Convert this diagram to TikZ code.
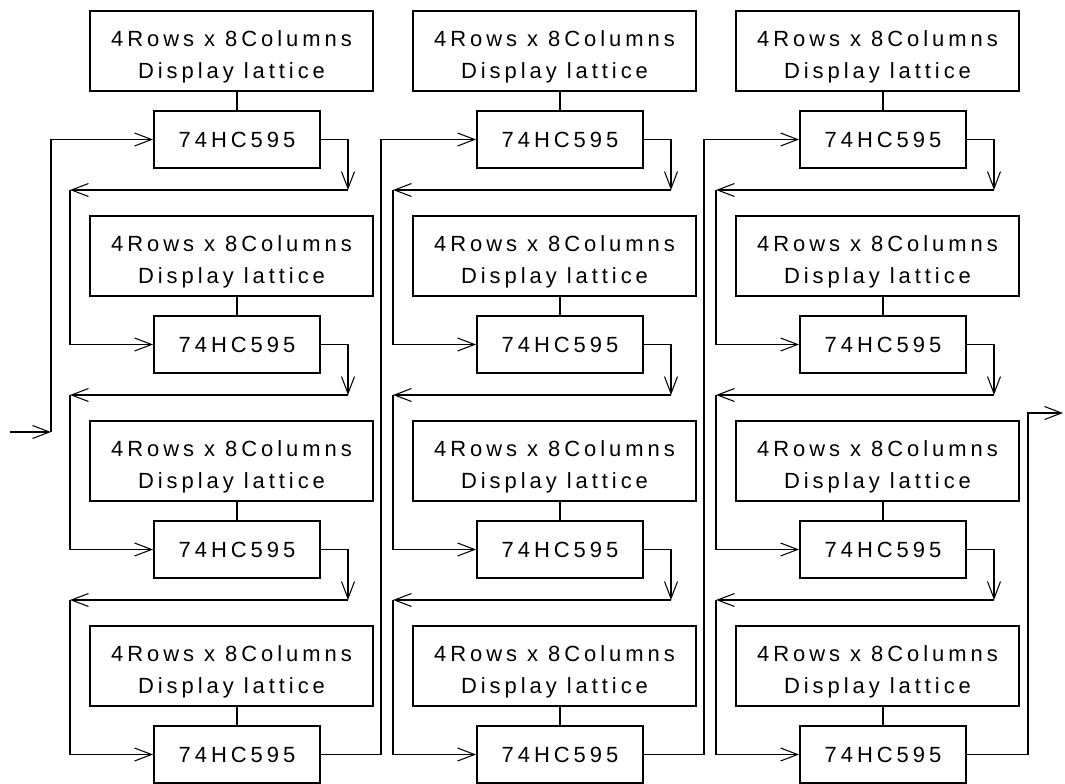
\documentclass[tikz,border=0pt]{standalone}
\usepackage{fontspec}
\setmainfont{Liberation Sans}[LetterSpace=18]
\usetikzlibrary{arrows.meta}

\begin{document}
\begin{tikzpicture}[
		lattice/.style={draw, line width=1.1pt, minimum width=5.66cm, minimum height=1.6cm, inner sep=0pt, align=center, font=\fontsize{12.5}{17.9}\selectfont},
		chipbox/.style={draw, line width=1.1pt, minimum width=3.32cm, minimum height=1.14cm, inner sep=0pt, font=\fontsize{12.5}{14}\selectfont},
		wire/.style={line width=1.1pt},
		>={Straight Barb[length=3.4mm,width=2.6mm,line width=0.6pt]}]
		\newcommand{\colStep}{6.46}
		\newcommand{\rowStep}{4.1}
		\newcommand{\latText}{\rule{0pt}{15.5pt}4Rows x 8Columns\\Display lattice}
		
		\useasboundingbox (0,0) rectangle (21.3,15.66);		% page
		
		% left column
		\node[lattice] (latA1) at (4.63,14.64) {\latText};
		\node[lattice] (latA2) at (4.63,14.64-1*\rowStep) {\latText};
		\node[lattice] (latA3) at (4.63,14.64-2*\rowStep) {\latText};
		\node[lattice] (latA4) at (4.63,14.64-3*\rowStep) {\latText};
		\node[chipbox] (chipA1) at (4.74,12.87) {74HC595};
		\node[chipbox] (chipA2) at (4.74,12.87-1*\rowStep) {74HC595};
		\node[chipbox] (chipA3) at (4.74,12.87-2*\rowStep) {74HC595};
		\node[chipbox] (chipA4) at (4.74,12.87-3*\rowStep) {74HC595};
		
		% middle column
		\node[lattice] (latB1) at (4.63+\colStep,14.64) {\latText};
		\node[lattice] (latB2) at (4.63+\colStep,14.64-1*\rowStep) {\latText};
		\node[lattice] (latB3) at (4.63+\colStep,14.64-2*\rowStep) {\latText};
		\node[lattice] (latB4) at (4.63+\colStep,14.64-3*\rowStep) {\latText};
		\node[chipbox] (chipB1) at (4.74+\colStep,12.87) {74HC595};
		\node[chipbox] (chipB2) at (4.74+\colStep,12.87-1*\rowStep) {74HC595};
		\node[chipbox] (chipB3) at (4.74+\colStep,12.87-2*\rowStep) {74HC595};
		\node[chipbox] (chipB4) at (4.74+\colStep,12.87-3*\rowStep) {74HC595};
		
		% right column
		\node[lattice] (latC1) at (4.63+2*\colStep,14.64) {\latText};
		\node[lattice] (latC2) at (4.63+2*\colStep,14.64-1*\rowStep) {\latText};
		\node[lattice] (latC3) at (4.63+2*\colStep,14.64-2*\rowStep) {\latText};
		\node[lattice] (latC4) at (4.63+2*\colStep,14.64-3*\rowStep) {\latText};
		\node[chipbox] (chipC1) at (4.74+2*\colStep,12.87) {74HC595};
		\node[chipbox] (chipC2) at (4.74+2*\colStep,12.87-1*\rowStep) {74HC595};
		\node[chipbox] (chipC3) at (4.74+2*\colStep,12.87-2*\rowStep) {74HC595};
		\node[chipbox] (chipC4) at (4.74+2*\colStep,12.87-3*\rowStep) {74HC595};
		
		% lattice to chip
		\draw[wire] (chipA1.north |- latA1.south) -- (chipA1.north);
		\draw[wire] (chipA2.north |- latA2.south) -- (chipA2.north);
		\draw[wire] (chipA3.north |- latA3.south) -- (chipA3.north);
		\draw[wire] (chipA4.north |- latA4.south) -- (chipA4.north);
		\draw[wire] (chipB1.north |- latB1.south) -- (chipB1.north);
		\draw[wire] (chipB2.north |- latB2.south) -- (chipB2.north);
		\draw[wire] (chipB3.north |- latB3.south) -- (chipB3.north);
		\draw[wire] (chipB4.north |- latB4.south) -- (chipB4.north);
		\draw[wire] (chipC1.north |- latC1.south) -- (chipC1.north);
		\draw[wire] (chipC2.north |- latC2.south) -- (chipC2.north);
		\draw[wire] (chipC3.north |- latC3.south) -- (chipC3.north);
		\draw[wire] (chipC4.north |- latC4.south) -- (chipC4.north);
		
		% turning points
		\coordinate (downA1) at (6.96,11.86);	\coordinate (backA1) at (1.40,11.86);
		\coordinate (downA2) at (6.96,11.86-1*\rowStep);	\coordinate (backA2) at (1.40,11.86-1*\rowStep);
		\coordinate (downA3) at (6.96,11.86-2*\rowStep);	\coordinate (backA3) at (1.40,11.86-2*\rowStep);
		\coordinate (downB1) at (6.96+\colStep,11.86);	\coordinate (backB1) at (1.40+\colStep,11.86);
		\coordinate (downB2) at (6.96+\colStep,11.86-1*\rowStep);	\coordinate (backB2) at (1.40+\colStep,11.86-1*\rowStep);
		\coordinate (downB3) at (6.96+\colStep,11.86-2*\rowStep);	\coordinate (backB3) at (1.40+\colStep,11.86-2*\rowStep);
		\coordinate (downC1) at (6.96+2*\colStep,11.86);	\coordinate (backC1) at (1.40+2*\colStep,11.86);
		\coordinate (downC2) at (6.96+2*\colStep,11.86-1*\rowStep);	\coordinate (backC2) at (1.40+2*\colStep,11.86-1*\rowStep);
		\coordinate (downC3) at (6.96+2*\colStep,11.86-2*\rowStep);	\coordinate (backC3) at (1.40+2*\colStep,11.86-2*\rowStep);
		\coordinate (inStart) at (0.2,7.02);		% data in
		\coordinate (inCorner) at (1.02,7.02);
		\coordinate (joinA) at (7.62,12.87);		% left to middle
		\coordinate (joinB) at (7.62+\colStep,12.87);	% middle to right
		\coordinate (outCorner) at (20.56,7.4);	% data out
		\coordinate (outEnd) at (21.26,7.4);
		
		% chain
		\draw[wire,->] (inStart) -- (inCorner);
		\draw[wire,->] (inCorner) |- (chipA1.west);
		\draw[wire,->] (chipA1.east) -| (downA1);	\draw[wire,->] (downA1) -- (backA1);	\draw[wire,->] (backA1) |- (chipA2.west);
		\draw[wire,->] (chipA2.east) -| (downA2);	\draw[wire,->] (downA2) -- (backA2);	\draw[wire,->] (backA2) |- (chipA3.west);
		\draw[wire,->] (chipA3.east) -| (downA3);	\draw[wire,->] (downA3) -- (backA3);	\draw[wire,->] (backA3) |- (chipA4.west);
		\draw[wire,->] (chipA4.east) -| (joinA) -- (chipB1.west);
		\draw[wire,->] (chipB1.east) -| (downB1);	\draw[wire,->] (downB1) -- (backB1);	\draw[wire,->] (backB1) |- (chipB2.west);
		\draw[wire,->] (chipB2.east) -| (downB2);	\draw[wire,->] (downB2) -- (backB2);	\draw[wire,->] (backB2) |- (chipB3.west);
		\draw[wire,->] (chipB3.east) -| (downB3);	\draw[wire,->] (downB3) -- (backB3);	\draw[wire,->] (backB3) |- (chipB4.west);
		\draw[wire,->] (chipB4.east) -| (joinB) -- (chipC1.west);
		\draw[wire,->] (chipC1.east) -| (downC1);	\draw[wire,->] (downC1) -- (backC1);	\draw[wire,->] (backC1) |- (chipC2.west);
		\draw[wire,->] (chipC2.east) -| (downC2);	\draw[wire,->] (downC2) -- (backC2);	\draw[wire,->] (backC2) |- (chipC3.west);
		\draw[wire,->] (chipC3.east) -| (downC3);	\draw[wire,->] (downC3) -- (backC3);	\draw[wire,->] (backC3) |- (chipC4.west);
		\draw[wire,->] (chipC4.east) -| (outCorner) -- (outEnd);
		\end{tikzpicture}
\end{document}
